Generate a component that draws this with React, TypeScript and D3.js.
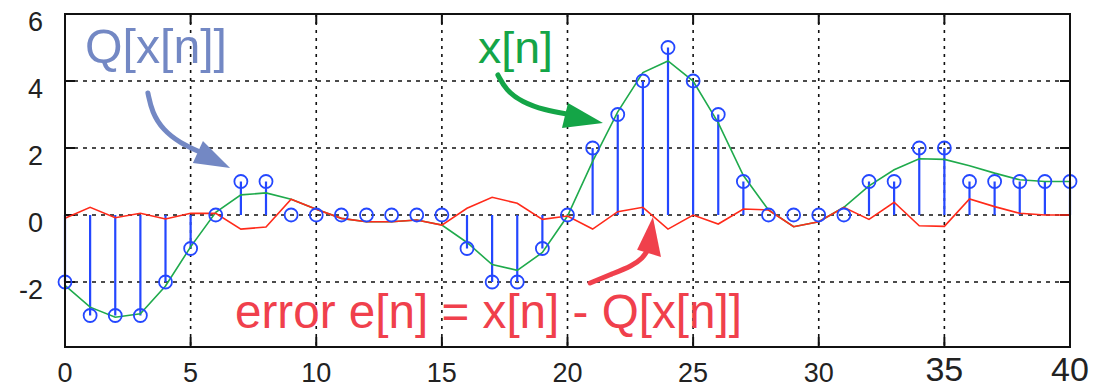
import { useEffect, useRef } from "react"
import * as d3 from "d3"

// sample index n = 0..40
const samples = d3.range(0, 41)

// quantized values Q[x[n]] (stems)
const quantized = [
  -2, -3, -3, -3, -2, -1, 0, 1, 1, 0, 0, 0, 0, 0, 0, 0, -1, -2, -2, -1, 0, 2, 3, 4, 5, 4, 3, 1, 0, 0, 0, 0, 1, 1,
  2, 2, 1, 1, 1, 1, 1,
]

// original signal x[n] (green line)
const signal = [
  -2.1, -2.75, -3.05, -2.95, -2.12, -0.95, 0.08, 0.6, 0.66, 0.47, 0.17, -0.1, -0.2, -0.2, -0.15, -0.3, -0.82, -1.48,
  -1.65, -1.12, -0.03, 1.6, 3.08, 4.25, 4.6, 4.0, 2.75, 1.18, 0.15, -0.35, -0.2, 0.23, 0.87, 1.35, 1.68, 1.66, 1.47,
  1.25, 1.05, 1.0, 1.0,
]

// error e[n] (red line)
const errorValues = [
  -0.1, 0.23, -0.08, 0.05, -0.12, 0.05, 0.05, -0.42, -0.36, 0.47, 0.17, -0.1, -0.2, -0.2, -0.15, -0.3, 0.2, 0.53,
  0.35, -0.13, -0.03, -0.42, 0.1, 0.23, -0.42, 0, -0.27, 0.18, 0.15, -0.35, -0.2, 0.23, -0.13, 0.38, -0.32, -0.34,
  0.48, 0.25, 0.05, 0, 0,
]

const xTicks = [0, 5, 10, 15, 20, 25, 30, 35, 40]
const yTicks = [-2, 0, 2, 4, 6]

// annotation arrows, in data units [n, value]
const blueShaft = [[3.3, 3.64], [3.46, 3.07], [3.9, 2.54], [4.58, 2.15], [5.37, 1.88]]
const blueHead = [[5.49, 2.21], [5.09, 1.55], [6.57, 1.4]]
const greenShaft = [[17.23, 4.18], [17.55, 3.73], [18.19, 3.37], [19.1, 3.13], [20.02, 3.01]]
const greenHead = [[20.02, 3.34], [19.78, 2.6], [21.41, 2.75]]
const redShaft = [[20.9, -2.03], [21.77, -1.76], [22.57, -1.52], [23.0, -1.28], [23.2, -1.04]]
const redHead = [[22.77, -1.04], [23.72, -1.25], [23.4, -0.06]]

export default function App() {
  const svgRef = useRef<SVGSVGElement>(null)

  useEffect(() => {
    if (!svgRef.current) return
    d3.select(svgRef.current).selectAll("*").remove()

    const W = 1101
    const H = 388
    const left = 65
    const right = 1070
    const top = 14
    const bottom = 347

    const svg = d3.select(svgRef.current).attr("width", W).attr("height", H)

    const x = d3.scaleLinear().domain([0, 40]).range([left, right])
    const y = d3.scaleLinear().domain([-3.94, 6]).range([bottom, top])

    const font = "'Liberation Sans', Arial, sans-serif"
    const stemColor = "#2447ff"
    const greenColor = "#1faa4c"
    const redColor = "#ff2a1a"

    svg.append("rect").attr("width", W).attr("height", H).attr("fill", "white")

    // grid
    const grid = svg.append("g")
    grid
      .selectAll("line.vx")
      .data(xTicks.filter((d) => d > 0 && d < 40))
      .enter()
      .append("line")
      .attr("x1", (d) => x(d))
      .attr("x2", (d) => x(d))
      .attr("y1", top)
      .attr("y2", bottom)
      .attr("stroke", "#111")
      .attr("stroke-width", 1.6)
      .attr("stroke-dasharray", "3,5")
    grid
      .selectAll("line.hy")
      .data(yTicks.filter((d) => d < 6))
      .enter()
      .append("line")
      .attr("x1", left)
      .attr("x2", right)
      .attr("y1", (d) => y(d))
      .attr("y2", (d) => y(d))
      .attr("stroke", "#111")
      .attr("stroke-width", 1.6)
      .attr("stroke-dasharray", "4,5")

    // inward ticks
    const tl = 10
    const ticks = svg.append("g").attr("stroke", "#111").attr("stroke-width", 2)
    xTicks.forEach((d) => {
      ticks.append("line").attr("x1", x(d)).attr("x2", x(d)).attr("y1", bottom).attr("y2", bottom - tl)
      ticks.append("line").attr("x1", x(d)).attr("x2", x(d)).attr("y1", top).attr("y2", top + tl)
    })
    yTicks.forEach((d) => {
      ticks.append("line").attr("x1", left).attr("x2", left + tl).attr("y1", y(d)).attr("y2", y(d))
      ticks.append("line").attr("x1", right).attr("x2", right - tl).attr("y1", y(d)).attr("y2", y(d))
    })

    // stems
    svg
      .append("g")
      .selectAll("line")
      .data(samples.filter((n) => quantized[n] !== 0))
      .enter()
      .append("line")
      .attr("x1", (n) => x(n))
      .attr("x2", (n) => x(n))
      .attr("y1", y(0))
      .attr("y2", (n) => y(quantized[n]))
      .attr("stroke", stemColor)
      .attr("stroke-width", 2.2)

    const line = d3.line<number>().x((n) => x(n))

    svg
      .append("path")
      .datum(samples)
      .attr("d", line.y((n) => y(signal[n])))
      .attr("fill", "none")
      .attr("stroke", greenColor)
      .attr("stroke-width", 1.6)

    svg
      .append("path")
      .datum(samples)
      .attr("d", line.y((n) => y(errorValues[n])))
      .attr("fill", "none")
      .attr("stroke", redColor)
      .attr("stroke-width", 1.6)

    // markers
    svg
      .append("g")
      .selectAll("circle")
      .data(samples)
      .enter()
      .append("circle")
      .attr("cx", (n) => x(n))
      .attr("cy", (n) => y(quantized[n]))
      .attr("r", 6.5)
      .attr("fill", "none")
      .attr("stroke", stemColor)
      .attr("stroke-width", 1.8)

    // frame
    svg
      .append("rect")
      .attr("x", left)
      .attr("y", top)
      .attr("width", right - left)
      .attr("height", bottom - top)
      .attr("fill", "none")
      .attr("stroke", "#111")
      .attr("stroke-width", 2)

    // tick labels
    svg
      .append("g")
      .selectAll("text")
      .data(yTicks)
      .enter()
      .append("text")
      .attr("x", 43)
      .attr("y", (d) => y(d) + 17)
      .attr("text-anchor", "end")
      .attr("fill", "#222")
      .style("font-family", font)
      .style("font-size", "27px")
      .text((d) => d)

    svg
      .append("g")
      .selectAll("text")
      .data(xTicks)
      .enter()
      .append("text")
      .attr("x", (d) => x(d))
      .attr("y", (d) => (d >= 35 ? 381 : 382))
      .attr("text-anchor", "middle")
      .attr("fill", "#222")
      .style("font-family", font)
      .style("font-size", (d) => (d >= 35 ? "34px" : "27px"))
      .text((d) => d)

    // annotations
    const pt = (p: number[]) => [x(p[0]), y(p[1])] as [number, number]

    const arrow = (sh: number[][], hd: number[][], color: string, w: number) => {
      svg
        .append("path")
        .attr("d", d3.line<number[]>().x((p) => pt(p)[0]).y((p) => pt(p)[1]).curve(d3.curveBasis)(sh))
        .attr("fill", "none")
        .attr("stroke", color)
        .attr("stroke-width", w)
        .attr("stroke-linecap", "round")
      svg
        .append("polygon")
        .attr("points", hd.map((p) => pt(p).join(",")).join(" "))
        .attr("fill", color)
    }

    arrow(blueShaft, blueHead, "#7388c4", 5)
    arrow(greenShaft, greenHead, "#14a547", 5)
    arrow(redShaft, redHead, "#f0404c", 5)

    svg
      .append("text")
      .attr("x", 85)
      .attr("y", 63)
      .attr("textLength", 142)
      .attr("lengthAdjust", "spacingAndGlyphs")
      .attr("fill", "#7388c4")
      .style("font-family", font)
      .style("font-size", "48px")
      .text("Q[x[n]]")

    svg
      .append("text")
      .attr("x", 478)
      .attr("y", 63)
      .attr("textLength", 75)
      .attr("lengthAdjust", "spacingAndGlyphs")
      .attr("fill", "#14a547")
      .style("font-family", font)
      .style("font-size", "45px")
      .text("x[n]")

    svg
      .append("text")
      .attr("x", 235)
      .attr("y", 328)
      .attr("textLength", 507)
      .attr("lengthAdjust", "spacingAndGlyphs")
      .attr("fill", "#f0404c")
      .style("font-family", font)
      .style("font-size", "48px")
      .text("error e[n] = x[n] - Q[x[n]]")
  }, [])

  return (
    <div style={{ position: "absolute", left: 0, top: 0, width: 1101, height: 388 }}>
      <svg ref={svgRef} style={{ display: "block" }}></svg>
    </div>
  )
}
